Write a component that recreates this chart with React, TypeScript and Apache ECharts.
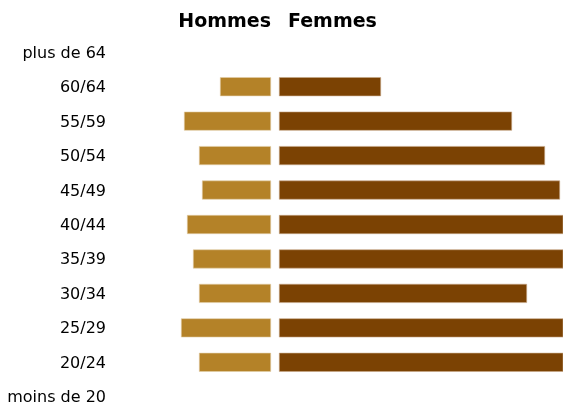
import React, { useEffect, useRef } from "react";
import * as echarts from "echarts";

const categories = ["moins de 20", "20/24", "25/29", "30/34", "35/39", "40/44", "45/49", "50/54", "55/59", "60/64", "plus de 64"];
const hommes = [null, 72, 90, 72, 78, 84, 69, 72, 87, 51, null];
const femmes = [null, 300, 310, 248, 295, 300, 281, 266, 233, 102, null];
const titles = ["Hommes", "Femmes"];

export default function App() {
  const ref = useRef<HTMLDivElement>(null);
  useEffect(() => {
    const chart = echarts.init(ref.current!, null, { renderer: "svg" });
    const font = "DejaVu Sans";
    chart.setOption({
      animation: false,
      textStyle: { fontFamily: font },
      graphic: [
        { type: "text", right: 563 - 271, top: 10, style: { text: titles[0], font: `bold 19px '${font}'`, fill: "#000" } },
        { type: "text", left: 288, top: 10, style: { text: titles[1], font: `bold 19px '${font}'`, fill: "#000" } },
      ],
      grid: [
        { left: 110, width: 161, top: 35, height: 379, outerBoundsMode: "none", containLabel: false },
        { left: 279, width: 284, top: 35, height: 379, outerBoundsMode: "none", containLabel: false },
      ],
      xAxis: [
        { gridIndex: 0, type: "value", min: 0, max: 161, inverse: true, show: false },
        { gridIndex: 1, type: "value", min: 0, max: 284, show: false },
      ],
      yAxis: [
        {
          gridIndex: 0, type: "category", data: categories,
          axisLine: { show: false }, axisTick: { show: false }, splitLine: { show: false },
          axisLabel: { margin: 4, color: "#000", fontSize: 16, fontFamily: font },
        },
        {
          gridIndex: 1, type: "category", data: categories, show: false,
        },
      ],
      series: [
        {
          type: "bar", xAxisIndex: 0, yAxisIndex: 0, data: hommes, barWidth: 19,
          itemStyle: { color: "#B48228", borderColor: "#e2cfa8", borderWidth: 0.6 },
        },
        {
          type: "bar", xAxisIndex: 1, yAxisIndex: 1, data: femmes, barWidth: 19, clip: true,
          itemStyle: { color: "#7B4203", borderColor: "#c8a888", borderWidth: 0.6 },
        },
      ],
    });
    return () => chart.dispose();
  }, []);
  return <div ref={ref} style={{ position: "fixed", left: 0, top: 0, width: 563, height: 405 }} />;
}
